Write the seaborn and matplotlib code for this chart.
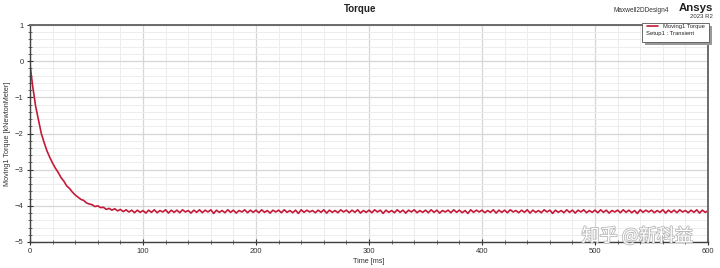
import numpy as np
import pandas as pd
import matplotlib
matplotlib.use("Agg")
import matplotlib.pyplot as plt
import matplotlib.patheffects as pe
from matplotlib.patches import Rectangle
from matplotlib.ticker import MultipleLocator
import seaborn as sns

# ---- data ----
transient = [-0.10, -0.72, -1.25, -1.62, -2.00, -2.25, -2.48, -2.66, -2.82, -2.96,
             -3.08, -3.22, -3.32, -3.45, -3.52, -3.62, -3.70, -3.76, -3.82, -3.85,
             -3.92, -3.95, -3.97, -4.02, -4.00, -4.05, -4.04, -4.10, -4.07, -4.12,
             -4.08]
steady = [-4.14, -4.10, -4.16, -4.11, -4.17, -4.12, -4.19, -4.12, -4.18, -4.13,
          -4.20, -4.12, -4.18, -4.11, -4.19, -4.13, -4.17, -4.11, -4.20, -4.12,
          -4.18, -4.12, -4.19, -4.11, -4.17, -4.13, -4.20, -4.12, -4.18, -4.11,
          -4.19, -4.12, -4.17, -4.11, -4.21, -4.12, -4.18, -4.13, -4.19, -4.11,
          -4.18, -4.12, -4.20, -4.13, -4.17, -4.11, -4.19, -4.12, -4.18, -4.12,
          -4.19, -4.11, -4.18, -4.13, -4.20, -4.12, -4.17, -4.12, -4.19, -4.11,
          -4.18, -4.13, -4.19, -4.12, -4.21, -4.11, -4.18, -4.12, -4.17, -4.13,
          -4.19, -4.12, -4.18, -4.11, -4.20, -4.12, -4.18, -4.13, -4.19, -4.11,
          -4.17, -4.12, -4.19, -4.12, -4.18, -4.11, -4.20, -4.13, -4.18, -4.12,
          -4.19, -4.11, -4.17, -4.12, -4.21, -4.12, -4.18, -4.13, -4.19, -4.11,
          -4.18, -4.12, -4.20, -4.12, -4.17, -4.11, -4.19, -4.13, -4.18, -4.12,
          -4.19, -4.11, -4.18, -4.12, -4.20, -4.13, -4.17, -4.12, -4.19, -4.11,
          -4.18, -4.12, -4.19, -4.13, -4.21, -4.11, -4.18, -4.12, -4.17, -4.12,
          -4.19, -4.13, -4.18, -4.11, -4.20, -4.12, -4.18, -4.12, -4.19, -4.11,
          -4.17, -4.13, -4.19, -4.12, -4.18, -4.11, -4.20, -4.12, -4.18, -4.13,
          -4.19, -4.11, -4.17, -4.12, -4.21, -4.12, -4.18, -4.13, -4.19, -4.11,
          -4.18, -4.12, -4.20, -4.12, -4.17, -4.11, -4.19, -4.13, -4.18, -4.12,
          -4.19, -4.11, -4.18, -4.12, -4.20, -4.13, -4.17, -4.12, -4.19, -4.11,
          -4.18, -4.12, -4.19, -4.13, -4.21, -4.11, -4.18, -4.12, -4.17, -4.12,
          -4.19, -4.13, -4.18, -4.11, -4.20, -4.12, -4.18, -4.12, -4.19, -4.11,
          -4.17, -4.13, -4.19, -4.12, -4.18, -4.11, -4.20, -4.12, -4.18, -4.14]
torque = transient + steady
time_ms = np.linspace(0, 600, len(torque))  # uniform simulation sampling

x_ticks = [0, 100, 200, 300, 400, 500, 600]
y_ticks = [-5, -4, -3, -2, -1, 0, 1]

df = pd.DataFrame({"Time [ms]": time_ms, "Moving1 Torque": torque})

sns.set_theme(style="white")
plt.rcParams["font.family"] = ["Liberation Sans", "DejaVu Sans"]

W, H = 720, 268
fig = plt.figure(figsize=(7.2, 2.68), dpi=100, facecolor="white")
ax = fig.add_axes([30 / W, 1 - 242 / H, 678 / W, 217 / H])
ax.set_facecolor("white")

sns.lineplot(data=df, x="Time [ms]", y="Moving1 Torque", ax=ax,
             color="#c41a3a", linewidth=1.2, label="Moving1 Torque")

ax.set_xlim(0, 600)
ax.set_ylim(-5, 1)
ax.set_xticks(x_ticks)
ax.set_yticks(y_ticks)
ax.xaxis.set_minor_locator(MultipleLocator(20))
ax.yaxis.set_minor_locator(MultipleLocator(0.2))
ax.grid(which="major", color="#d6d6d6", linewidth=0.9)
ax.grid(which="minor", color="#ededed", linewidth=0.7)
ax.tick_params(which="major", direction="inout", length=5, width=0.8,
               labelsize=5.5, colors="#333333", pad=2, left=True, bottom=True)
ax.tick_params(which="minor", direction="inout", length=3, width=0.6,
               colors="#555555", left=True, bottom=True)
for s in ["left", "bottom"]:
    ax.spines[s].set_color("#404040")
    ax.spines[s].set_linewidth(1.0)
for s in ["top", "right"]:
    ax.spines[s].set_color("#6a6a6a")
    ax.spines[s].set_linewidth(1.4)

ax.set_xlabel("Time [ms]", fontsize=5.2, color="#333333", labelpad=2)
ax.set_ylabel("Moving1 Torque [kNewtonMeter]", fontsize=5.2, color="#333333")
ax.yaxis.set_label_coords(-19 / 678, 0.5)

# legend box (Ansys style: two rows, shadowed frame)
def ax_xy(px, py):
    return (px - 30) / 678, (242 - py) / 217

x0, y0 = ax_xy(642, 42)
x1, y1 = ax_xy(709, 23)
shadow = Rectangle((x0 + 3 / 678, y0 - 3 / 217), x1 - x0, y1 - y0,
                   transform=ax.transAxes, facecolor="#9a9a9a", edgecolor="none",
                   clip_on=False, zorder=9)
box = Rectangle((x0, y0), x1 - x0, y1 - y0, transform=ax.transAxes,
                facecolor="white", edgecolor="#555555", linewidth=0.6,
                clip_on=False, zorder=10)
ax.add_patch(shadow)
ax.add_patch(box)
lx, ly = ax_xy(647, 24)
leg = ax.legend(loc="upper left", bbox_to_anchor=(lx, ly), fontsize=4.2,
                frameon=False, borderpad=0, handlelength=1.8,
                handletextpad=1.0, borderaxespad=0)
leg.set_zorder(11)
tx, ty = ax_xy(646, 34)
ax.text(tx, ty, "Setup1 : Transient", transform=ax.transAxes, fontsize=4.2,
        ha="left", va="center", color="#222222", zorder=11)

fig.text(360 / W, 1 - 9 / H, "Torque", ha="center", va="center", fontsize=7,
         fontweight="bold", color="#222222")
fig.text(641 / W, 1 - 11 / H, "Maxwell2DDesign4", ha="center", va="center",
         fontsize=4.7, color="#333333")
fig.text(713 / W, 1 - 8 / H, "Ansys", ha="right", va="center", fontsize=8.2,
         fontweight="bold", color="#222222")
fig.text(713 / W, 1 - 17 / H, "2023 R2", ha="right", va="center", fontsize=4.3,
         color="#333333")

fig.text(637 / W, 1 - 236 / H, "知乎 @新科益", ha="center", va="center", fontsize=13,
         color="white", family=["Noto Sans CJK SC", "DejaVu Sans"],
         path_effects=[pe.withStroke(linewidth=1.2, foreground="#b8b8b8")],
         zorder=20)

fig.savefig("out.png", dpi=100, facecolor="white")
